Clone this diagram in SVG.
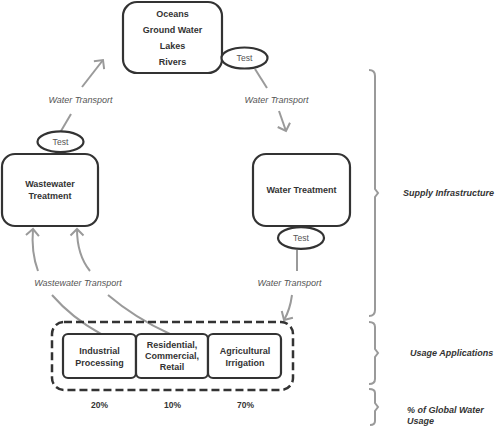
<svg xmlns="http://www.w3.org/2000/svg" width="497" height="427" viewBox="0 0 497 427">
<style>
.box{fill:#fff;stroke:#333;stroke-width:2.2}
.test{fill:#fff;stroke:#333;stroke-width:2.2}
.nt{font-family:"Liberation Sans",Arial,sans-serif;font-size:9px;font-weight:bold;fill:#333;text-anchor:middle}
.tt{font-family:"Liberation Sans",Arial,sans-serif;font-size:8.6px;fill:#555;text-anchor:middle}
.lbl{font-family:"Liberation Sans",Arial,sans-serif;font-size:9px;font-style:italic;fill:#555;text-anchor:middle}
.side{font-family:"Liberation Sans",Arial,sans-serif;font-size:9px;font-style:italic;font-weight:bold;fill:#333}
.pct{font-family:"Liberation Sans",Arial,sans-serif;font-size:8.5px;font-weight:bold;fill:#333;text-anchor:middle}
.con{fill:none;stroke:#9a9a9a;stroke-width:2}
.brace{fill:none;stroke:#9a9a9a;stroke-width:2}
</style>
<defs>
<marker id="chev" markerUnits="userSpaceOnUse" markerWidth="20" markerHeight="20" viewBox="-10 -10 20 20" refX="0" refY="0" orient="auto">
<path d="M-6.5,-6.5 L0,0 L-6.5,6.5" fill="none" stroke="#9a9a9a" stroke-width="2"/>
</marker>
</defs>

<g id="connectors">
<path class="con" d="M61,131 L71,114"/>
<path class="con" d="M82,87 L103,60" marker-end="url(#chev)"/>
<path class="con" d="M255,69 L267,88"/>
<path class="con" d="M279,111 L286,131" marker-end="url(#chev)"/>
<path class="con" d="M297,250 L297,271"/>
<path class="con" d="M292,295 Q290,310 284,320" marker-end="url(#chev)"/>
<path class="con" d="M101,334 Q72,318 52,295"/>
<path class="con" d="M38,271 Q31,252 33,229" marker-end="url(#chev)"/>
<path class="con" d="M170,334 Q135,318 108,295"/>
<path class="con" d="M90,271 Q77,255 77,229" marker-end="url(#chev)"/>
<text class="lbl" x="80.5" y="102.5">Water Transport</text>
<text class="lbl" x="276.5" y="102.5">Water Transport</text>
<text class="lbl" x="289.5" y="286">Water Transport</text>
<text class="lbl" x="78" y="286">Wastewater Transport</text>
</g>

<g id="sources">
<rect class="box" x="123" y="2" width="99" height="71" rx="14"/>
<text class="nt" x="172.5" y="16.5">Oceans</text>
<text class="nt" x="172.5" y="33">Ground Water</text>
<text class="nt" x="172.5" y="49">Lakes</text>
<text class="nt" x="172.5" y="65">Rivers</text>
</g>
<g id="test-sources">
<ellipse class="test" cx="244.5" cy="58" rx="23" ry="10.5"/>
<text class="tt" x="244.5" y="61">Test</text>
</g>

<g id="wastewater-treatment">
<rect class="box" x="2" y="154" width="96" height="72" rx="13"/>
<text class="nt" x="50" y="187">Wastewater</text>
<text class="nt" x="50" y="199">Treatment</text>
</g>
<g id="test-wastewater">
<ellipse class="test" cx="60.5" cy="141.7" rx="23" ry="10.3"/>
<text class="tt" x="60.5" y="144.8">Test</text>
</g>

<g id="water-treatment">
<rect class="box" x="253" y="154" width="97" height="72" rx="13"/>
<text class="nt" x="301.5" y="192.5">Water Treatment</text>
</g>
<g id="test-water">
<ellipse class="test" cx="301" cy="238" rx="23" ry="10.8"/>
<text class="tt" x="301" y="241">Test</text>
</g>

<g id="usage-group">
<rect x="52" y="322" width="241" height="68" rx="12" fill="none" stroke="#333" stroke-width="2.5" stroke-dasharray="8 4"/>
</g>
<g id="industrial">
<rect class="box" x="63" y="334" width="73" height="44" rx="5" stroke-width="2"/>
<text class="nt" x="99.5" y="354">Industrial</text>
<text class="nt" x="99.5" y="365.5">Processing</text>
</g>
<g id="residential">
<rect class="box" x="136" y="334" width="72" height="44" rx="5" stroke-width="2"/>
<text class="nt" x="172" y="348.3">Residential,</text>
<text class="nt" x="172" y="359.3">Commercial,</text>
<text class="nt" x="172" y="370">Retail</text>
</g>
<g id="agricultural">
<rect class="box" x="208" y="334" width="73" height="44" rx="5" stroke-width="2"/>
<text class="nt" x="245" y="354">Agricultural</text>
<text class="nt" x="245" y="365.5">Irrigation</text>
</g>

<g id="percentages">
<text class="pct" x="99.5" y="408">20%</text>
<text class="pct" x="172.5" y="408">10%</text>
<text class="pct" x="245.5" y="408">70%</text>
</g>

<g id="braces">
<path class="brace" d="M369,70 Q375,70 375,76 L375,189 L378,193 L375,197 L375,310 Q375,316 369,316"/>
<path class="brace" d="M369,322 Q375,322 375,327 L375,349 L378,353 L375,357 L375,379 Q375,384 369,384"/>
<path class="brace" d="M369,389 Q375,389 375,393 L375,403 L378,407 L375,411 L375,421 Q375,425 370,425"/>
<text class="side" x="403" y="196">Supply Infrastructure</text>
<text class="side" x="410" y="356">Usage Applications</text>
<text class="side" x="407" y="412.5">% of Global Water</text>
<text class="side" x="407" y="423.5">Usage</text>
</g>
</svg>
